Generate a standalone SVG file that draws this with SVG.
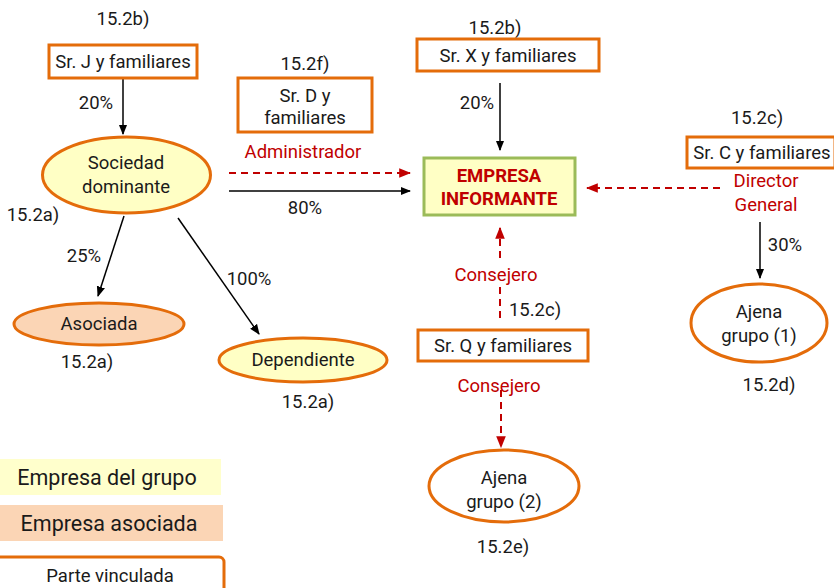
<svg xmlns="http://www.w3.org/2000/svg" width="834" height="588" viewBox="0 0 834 588">
<defs>
<style>
text{font-family:Roboto,"Liberation Sans",sans-serif;font-size:18.5px;fill:#1a1a1a;text-anchor:middle}
.r{fill:#C00000}
.b{font-weight:bold;fill:#C00000}
.box{fill:#fff;stroke:#E46C0A;stroke-width:3}
.ell{stroke:#E46C0A;stroke-width:3}
.ln{stroke:#000;stroke-width:1.5;fill:none}
.dl{stroke:#C00000;stroke-width:2;fill:none;stroke-dasharray:7 5}
.lg{font-size:21.5px}
</style>
<marker id="ab" viewBox="0 0 10 10" refX="9" refY="5" markerWidth="7" markerHeight="7" orient="auto"><path d="M0,1 L10,5 L0,9 z" fill="#000"/></marker>
<marker id="ar" viewBox="0 0 10 10" refX="9" refY="5" markerWidth="6" markerHeight="6" orient="auto"><path d="M0,1 L10,5 L0,9 z" fill="#C00000"/></marker>
</defs>
<rect width="834" height="588" fill="#fff"/>
<g id="connectors">
<line class="ln" x1="123" y1="79" x2="123" y2="134" marker-end="url(#ab)"/>
<line class="ln" x1="124" y1="216" x2="98" y2="296" marker-end="url(#ab)"/>
<line class="ln" x1="178" y1="218" x2="259" y2="334" marker-end="url(#ab)"/>
<line class="dl" x1="229" y1="173" x2="410" y2="173" marker-end="url(#ar)"/>
<line class="ln" x1="229" y1="191" x2="410" y2="191" marker-end="url(#ab)"/>
<line class="ln" x1="500" y1="83" x2="500" y2="150" marker-end="url(#ab)"/>
<line class="dl" x1="720" y1="188" x2="587" y2="188" marker-end="url(#ar)"/>
<line class="ln" x1="760" y1="222" x2="760" y2="278" marker-end="url(#ab)"/>
<line class="dl" x1="500" y1="318" x2="500" y2="228" marker-end="url(#ar)"/>
<line class="dl" x1="501" y1="390" x2="501" y2="447" marker-end="url(#ar)"/>
<text x="96" y="109">20%</text>
<text x="84" y="262">25%</text>
<text x="249" y="285">100%</text>
<text class="r" x="303" y="158">Administrador</text>
<text x="305" y="214">80%</text>
<text x="477" y="109">20%</text>
<text x="785" y="251">30%</text>
<rect x="448" y="262" width="96" height="24" fill="#fff"/>
<text class="r" x="496" y="281">Consejero</text>
<text class="r" x="499" y="392">Consejero</text>
</g>
<g id="srJ">
<text x="123" y="25">15.2b)</text>
<rect class="box" x="49" y="45" width="148" height="33"/>
<text x="123" y="68">Sr. J y familiares</text>
</g>
<g id="sociedad">
<ellipse class="ell" cx="126.5" cy="175" rx="84" ry="38" fill="#FFFFC5"/>
<text x="126" y="169">Sociedad</text>
<text x="126" y="193">dominante</text>
<text x="33" y="221">15.2a)</text>
</g>
<g id="srD">
<text x="305" y="70">15.2f)</text>
<rect class="box" x="238" y="78" width="134" height="54"/>
<text x="305" y="102">Sr. D y</text>
<text x="305" y="124">familiares</text>
</g>
<g id="empresa">
<rect x="424" y="158" width="151" height="57" fill="#FFFFC5" stroke="#9BBB59" stroke-width="3"/>
<text class="b" x="499" y="182">EMPRESA</text>
<text class="b" x="499" y="205">INFORMANTE</text>
</g>
<g id="srX">
<text x="495" y="34">15.2b)</text>
<rect class="box" x="417" y="39" width="182" height="32"/>
<text x="508" y="62">Sr. X y familiares</text>
</g>
<g id="srC">
<text x="757" y="124">15.2c)</text>
<rect class="box" x="687" y="137" width="148" height="31"/>
<text x="762" y="159">Sr. C y familiares</text>
<text class="r" x="766" y="187">Director</text>
<text class="r" x="766" y="211">General</text>
</g>
<g id="ajena1">
<ellipse class="ell" cx="759" cy="323" rx="68" ry="39" fill="#fff"/>
<text x="759" y="318">Ajena</text>
<text x="759" y="342">grupo (1)</text>
<text x="769" y="391">15.2d)</text>
</g>
<g id="srQ">
<text x="535" y="316">15.2c)</text>
<rect class="box" x="418" y="330" width="170" height="31"/>
<text x="503" y="352">Sr. Q y familiares</text>
</g>
<g id="ajena2">
<ellipse class="ell" cx="504" cy="486" rx="75" ry="36" fill="#fff"/>
<text x="504" y="484">Ajena</text>
<text x="504" y="508">grupo (2)</text>
<text x="503" y="553">15.2e)</text>
</g>
<g id="asociada">
<ellipse class="ell" cx="99" cy="324" rx="85" ry="21" fill="#FBD5B5"/>
<text x="99" y="330">Asociada</text>
<text x="87" y="368">15.2a)</text>
</g>
<g id="dependiente">
<ellipse class="ell" cx="303" cy="360" rx="84" ry="22" fill="#FFFFC5"/>
<text x="303" y="366">Dependiente</text>
<text x="308" y="408">15.2a)</text>
</g>
<g id="legend">
<rect x="0" y="459" width="221" height="36" fill="#FFFFCC"/>
<text class="lg" x="107" y="485">Empresa del grupo</text>
<rect x="0" y="505" width="223" height="36" fill="#FBD5B5"/>
<text class="lg" x="109" y="531">Empresa asociada</text>
<rect class="box" x="-10" y="557" width="234" height="44" rx="5"/>
<text x="110" y="582">Parte vinculada</text>
</g>
</svg>
